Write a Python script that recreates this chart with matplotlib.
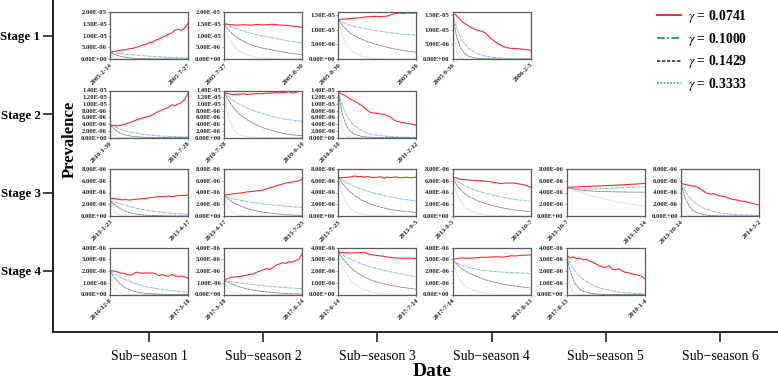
import numpy as np
import pandas as pd
import matplotlib
matplotlib.use('Agg')
import matplotlib.pyplot as plt
from matplotlib.lines import Line2D
from matplotlib.ticker import FuncFormatter

plt.rcParams['font.family'] = ['Liberation Serif', 'DejaVu Serif']
plt.rcParams['mathtext.fontset'] = 'stix'

# ---------------- data ----------------
STAGES = ['Stage 1', 'Stage 2', 'Stage 3', 'Stage 4']
SUBSEASONS = ['Sub\u2212season 1', 'Sub\u2212season 2', 'Sub\u2212season 3',
              'Sub\u2212season 4', 'Sub\u2212season 5', 'Sub\u2212season 6']
GAMMAS = ['0.0741', '0.1000', '0.1429', '0.3333']
UNIT = 1e-6
# sample positions (fraction of panel period) for the decay curves
T_FRAC = [0, 0.02, 0.05, 0.1, 0.15, 0.2, 0.3, 0.4, 0.5, 0.65, 0.8, 1.0]

DATES_1 = [['2005-2-14', '2005-7-27'], ['2005-7-27', '2005-8-30'],
           ['2005-8-30', '2005-9-30'], ['2005-9-30', '2006-2-5']]
DATES_2 = [['2010-1-30', '2010-7-28'], ['2010-7-28', '2010-9-10'],
           ['2010-9-10', '2011-2-12']]
DATES_3 = [['2013-1-23', '2013-4-17'], ['2013-4-17', '2013-7-25'],
           ['2013-7-25', '2013-9-5'], ['2013-9-5', '2013-10-7'],
           ['2013-10-7', '2013-10-14'], ['2013-10-14', '2014-3-2']]
DATES_4 = [['2016-12-8', '2017-3-18'], ['2017-3-18', '2017-6-14'],
           ['2017-6-14', '2017-7-14'], ['2017-7-14', '2017-8-13'],
           ['2017-8-13', '2018-1-4']]

YTICKS_1 = [[0, 5, 10, 15, 20], [0, 5, 10, 15, 20], [0, 5, 10, 15], [0, 5, 10, 15]]
YMAX_1 = [20, 20, 16, 16]
YTICKS_2 = [[0, 2, 4, 6, 8, 10, 12, 14]] * 3
YMAX_2 = [14, 14, 14]
YTICKS_3 = [[0, 2, 4, 6, 8]] * 6
YMAX_3 = [8] * 6
YTICKS_4 = [[0, 1, 2, 3, 4]] * 5
YMAX_4 = [4] * 5

# red: observed prevalence (x 1e-6)
RED_1 = [
    [3.0, 3.1, 3.4, 3.6, 3.9, 4.0, 4.4, 4.5, 5.0, 5.3, 5.9, 6.2, 6.9, 7.2, 8.0, 8.4, 9.3, 9.7, 10.6, 11.1, 12.2, 12.6, 12.2, 13.2, 15.3],
    [15.0, 14.8, 14.6, 14.5, 14.4, 14.5, 14.6, 14.5, 14.4, 14.5, 14.7, 14.6, 14.5, 14.6, 14.7, 14.8, 14.6, 14.5, 14.4, 14.3, 14.2, 14.0, 13.9, 13.7, 13.4],
    [13.4, 13.5, 13.6, 13.7, 13.8, 13.9, 14.0, 14.1, 14.3, 14.4, 14.4, 14.5, 14.5, 14.4, 14.5, 14.6, 15.0, 15.4, 15.6, 15.6, 15.5, 15.7, 15.6, 15.6, 15.7],
    [15.6, 15.0, 13.8, 12.6, 11.9, 11.2, 10.6, 10.0, 9.7, 9.4, 9.0, 7.8, 6.8, 6.0, 5.2, 4.6, 4.1, 3.8, 3.6, 3.6, 3.5, 3.4, 3.3, 3.2, 2.9],
]
RED_2 = [
    [3.8, 3.6, 3.5, 3.6, 3.8, 4.1, 4.4, 4.8, 5.2, 5.5, 5.8, 6.1, 6.3, 6.7, 7.3, 7.8, 8.2, 8.6, 9.0, 9.7, 9.5, 10.0, 10.4, 11.3, 13.2],
    [13.3, 13.1, 12.9, 12.8, 12.9, 12.9, 13.0, 12.8, 12.9, 13.0, 13.1, 13.0, 13.1, 13.2, 13.2, 13.3, 13.4, 13.3, 13.4, 13.5, 13.6, 13.2, 13.4, 13.7, 13.8],
    [13.5, 13.0, 12.5, 11.9, 11.3, 10.8, 10.2, 9.6, 8.9, 8.0, 7.4, 7.3, 7.2, 7.0, 6.9, 6.6, 6.1, 5.3, 4.8, 4.6, 4.4, 4.2, 4.1, 3.9, 3.6],
]
RED_3 = [
    [2.9, 3.0, 2.9, 2.8, 2.75, 2.8, 2.7, 2.8, 2.85, 2.9, 2.95, 3.0, 3.1, 3.15, 3.2, 3.3, 3.3, 3.35, 3.4, 3.3, 3.4, 3.45, 3.5, 3.5, 3.6],
    [3.5, 3.6, 3.7, 3.8, 3.85, 3.9, 4.0, 4.1, 4.15, 4.2, 4.3, 4.3, 4.45, 4.6, 4.8, 4.95, 5.1, 5.3, 5.45, 5.6, 5.7, 5.8, 5.9, 5.95, 6.3],
    [6.6, 6.5, 6.55, 6.6, 6.7, 6.8, 6.7, 6.75, 6.6, 6.7, 6.6, 6.5, 6.6, 6.7, 6.4, 6.6, 6.55, 6.6, 6.65, 6.5, 6.55, 6.6, 6.5, 6.55, 6.6],
    [6.6, 6.5, 6.3, 6.2, 6.2, 6.1, 6.1, 6.0, 6.0, 6.0, 5.9, 5.9, 5.8, 5.7, 5.6, 5.5, 5.6, 5.6, 5.6, 5.6, 5.5, 5.4, 5.3, 5.1, 4.9],
    [4.85, 4.9, 4.92, 4.95, 4.98, 5.0, 5.02, 5.05, 5.08, 5.1, 5.12, 5.15, 5.18, 5.2, 5.22, 5.25, 5.28, 5.3, 5.33, 5.36, 5.4, 5.43, 5.46, 5.5, 5.55],
    [5.6, 5.4, 5.3, 5.1, 5.15, 4.9, 4.6, 4.2, 3.9, 3.7, 3.85, 3.6, 3.4, 3.35, 3.2, 3.0, 2.8, 2.75, 2.6, 2.5, 2.45, 2.3, 2.15, 2.0, 1.85],
]
RED_4 = [
    [2.05, 2.0, 1.95, 1.85, 1.8, 1.75, 1.65, 1.7, 1.9, 1.85, 1.8, 1.85, 1.8, 1.85, 1.75, 1.6, 1.7, 1.6, 1.55, 1.7, 1.6, 1.55, 1.55, 1.5, 1.4],
    [1.25, 1.35, 1.45, 1.5, 1.5, 1.55, 1.6, 1.65, 1.7, 1.75, 1.9, 2.0, 2.1, 2.2, 2.15, 2.3, 2.5, 2.6, 2.7, 2.65, 2.8, 2.75, 2.9, 3.0, 3.5],
    [3.6, 3.58, 3.55, 3.55, 3.52, 3.55, 3.55, 3.58, 3.6, 3.45, 3.4, 3.35, 3.32, 3.28, 3.25, 3.2, 3.15, 3.12, 3.1, 3.1, 3.1, 3.08, 3.1, 3.05, 3.05],
    [2.95, 3.05, 3.1, 3.12, 3.1, 3.08, 3.1, 3.12, 3.15, 3.18, 3.15, 3.18, 3.2, 3.2, 3.22, 3.18, 3.2, 3.25, 3.3, 3.28, 3.3, 3.32, 3.35, 3.35, 3.38],
    [3.35, 3.1, 3.2, 3.05, 3.1, 2.95, 3.0, 2.85, 2.75, 2.6, 2.45, 2.35, 2.3, 2.45, 2.15, 2.1, 2.2, 2.0, 1.9, 1.85, 1.75, 1.7, 1.65, 1.55, 1.35],
]

# blue: gamma = 0.1000
BLUE_1 = [
    [2.8, 2.75, 2.65, 2.45, 2.25, 2.05, 1.75, 1.45, 1.2, 0.9, 0.65, 0.4],
    [15.0, 14.7, 14.2, 13.5, 12.9, 12.3, 11.3, 10.5, 9.8, 8.8, 7.8, 6.8],
    [13.4, 13.0, 12.5, 11.9, 11.5, 11.1, 10.5, 10.0, 9.6, 9.0, 8.5, 8.1],
    [15.6, 13.5, 10.8, 7.5, 5.3, 3.8, 2.0, 1.1, 0.6, 0.25, 0.1, 0.05],
]
BLUE_2 = [
    [3.8, 3.6, 3.3, 2.8, 2.4, 2.0, 1.45, 1.05, 0.75, 0.45, 0.28, 0.15],
    [13.3, 12.9, 12.3, 11.3, 10.5, 9.8, 8.7, 7.8, 7.1, 6.1, 5.4, 4.8],
    [13.5, 11.8, 9.6, 6.8, 4.9, 3.6, 2.0, 1.1, 0.65, 0.3, 0.15, 0.08],
]
BLUE_3 = [
    [2.6, 2.5, 2.4, 2.2, 2.0, 1.8, 1.45, 1.15, 0.9, 0.65, 0.45, 0.28],
    [3.4, 3.3, 3.2, 3.0, 2.85, 2.7, 2.45, 2.25, 2.05, 1.85, 1.65, 1.45],
    [6.6, 6.4, 6.1, 5.7, 5.35, 5.05, 4.55, 4.1, 3.75, 3.3, 2.9, 2.55],
    [6.5, 6.3, 6.0, 5.6, 5.2, 4.9, 4.35, 3.95, 3.6, 3.15, 2.8, 2.5],
    [4.85, 4.8, 4.75, 4.7, 4.65, 4.62, 4.6, 4.62, 4.66, 4.75, 4.85, 5.0],
    [5.5, 5.0, 4.3, 3.3, 2.6, 2.0, 1.3, 0.85, 0.55, 0.3, 0.17, 0.08],
]
BLUE_4 = [
    [2.0, 1.92, 1.8, 1.6, 1.42, 1.25, 1.0, 0.78, 0.62, 0.45, 0.32, 0.2],
    [1.2, 1.17, 1.14, 1.08, 1.03, 0.98, 0.9, 0.82, 0.75, 0.66, 0.58, 0.5],
    [3.6, 3.5, 3.38, 3.2, 3.03, 2.88, 2.6, 2.38, 2.2, 1.95, 1.75, 1.5],
    [2.95, 2.85, 2.72, 2.55, 2.42, 2.32, 2.17, 2.05, 1.97, 1.9, 1.85, 1.8],
    [3.3, 3.0, 2.6, 2.05, 1.65, 1.35, 0.9, 0.6, 0.42, 0.22, 0.12, 0.05],
]

# gray: gamma = 0.1429
GRAY_1 = [
    [2.8, 2.5, 2.05, 1.45, 1.0, 0.7, 0.35, 0.15, 0.07, 0.02, 0.0, 0.0],
    [15.0, 14.0, 12.6, 10.8, 9.5, 8.4, 6.6, 5.4, 4.6, 3.6, 2.7, 1.8],
    [13.4, 12.6, 11.5, 10.0, 8.9, 8.0, 6.7, 5.7, 4.9, 3.8, 3.0, 2.3],
    [15.6, 12.0, 7.8, 3.9, 2.0, 1.0, 0.3, 0.1, 0.03, 0, 0, 0],
]
GRAY_2 = [
    [3.8, 3.3, 2.6, 1.7, 1.1, 0.7, 0.3, 0.12, 0.05, 0.01, 0, 0],
    [13.3, 12.5, 11.3, 9.5, 8.1, 6.9, 5.2, 3.9, 2.9, 1.8, 1.0, 0.5],
    [13.5, 10.5, 7.0, 3.6, 1.9, 1.0, 0.3, 0.08, 0.02, 0, 0, 0],
]
GRAY_3 = [
    [2.6, 2.35, 2.0, 1.5, 1.1, 0.8, 0.4, 0.2, 0.1, 0.03, 0, 0],
    [3.4, 3.2, 2.9, 2.45, 2.05, 1.75, 1.25, 0.9, 0.65, 0.4, 0.2, 0.1],
    [6.6, 6.2, 5.6, 4.8, 4.1, 3.55, 2.7, 2.1, 1.65, 1.15, 0.85, 0.6],
    [6.5, 6.0, 5.3, 4.5, 3.9, 3.4, 2.7, 2.2, 1.8, 1.35, 1.0, 0.75],
    [4.85, 4.78, 4.68, 4.55, 4.45, 4.38, 4.27, 4.2, 4.15, 4.1, 4.07, 4.05],
    [5.5, 4.5, 3.2, 1.8, 1.0, 0.6, 0.2, 0.06, 0.02, 0, 0, 0],
]
GRAY_4 = [
    [2.0, 1.8, 1.5, 1.1, 0.8, 0.55, 0.28, 0.14, 0.07, 0.02, 0, 0],
    [1.2, 1.13, 1.03, 0.88, 0.75, 0.64, 0.47, 0.34, 0.25, 0.15, 0.08, 0.04],
    [3.6, 3.4, 3.1, 2.7, 2.35, 2.05, 1.6, 1.28, 1.05, 0.8, 0.62, 0.45],
    [2.95, 2.8, 2.6, 2.3, 2.05, 1.85, 1.55, 1.3, 1.1, 0.88, 0.72, 0.55],
    [3.3, 2.6, 1.85, 1.0, 0.55, 0.3, 0.1, 0.03, 0, 0, 0, 0],
]

# green: gamma = 0.3333
GREEN_1 = [
    [2.8, 1.6, 0.6, 0.1, 0.02, 0, 0, 0, 0, 0, 0, 0],
    [15.0, 12.5, 9.8, 6.5, 4.6, 3.2, 1.6, 0.8, 0.4, 0.1, 0, 0],
    [13.4, 11.0, 8.2, 5.2, 3.4, 2.2, 0.9, 0.35, 0.1, 0, 0, 0],
    [15.6, 8.0, 2.6, 0.4, 0.05, 0, 0, 0, 0, 0, 0, 0],
]
GREEN_2 = [
    [3.8, 2.0, 0.7, 0.1, 0.02, 0, 0, 0, 0, 0, 0, 0],
    [13.3, 10.0, 6.5, 3.2, 1.6, 0.8, 0.2, 0.05, 0, 0, 0, 0],
    [13.5, 7.0, 2.4, 0.4, 0.05, 0, 0, 0, 0, 0, 0, 0],
]
GREEN_3 = [
    [2.6, 1.7, 0.9, 0.3, 0.1, 0.03, 0, 0, 0, 0, 0, 0],
    [3.4, 2.4, 1.4, 0.6, 0.25, 0.1, 0.02, 0, 0, 0, 0, 0],
    [6.6, 5.3, 3.8, 2.2, 1.3, 0.8, 0.3, 0.1, 0.04, 0, 0, 0],
    [6.5, 5.3, 4.0, 2.6, 1.7, 1.1, 0.5, 0.2, 0.08, 0.02, 0, 0],
    [4.85, 4.75, 4.6, 4.35, 4.12, 3.9, 3.5, 3.15, 2.85, 2.4, 2.05, 1.65],
    [5.5, 2.8, 1.0, 0.15, 0.02, 0, 0, 0, 0, 0, 0, 0],
]
GREEN_4 = [
    [2.0, 1.3, 0.65, 0.2, 0.06, 0.02, 0, 0, 0, 0, 0, 0],
    [1.2, 0.85, 0.5, 0.2, 0.08, 0.03, 0, 0, 0, 0, 0, 0],
    [3.6, 3.0, 2.4, 1.75, 1.3, 0.95, 0.5, 0.25, 0.13, 0.05, 0.02, 0],
    [2.95, 2.4, 1.85, 1.2, 0.8, 0.55, 0.25, 0.12, 0.05, 0.01, 0, 0],
    [3.3, 1.6, 0.55, 0.08, 0.01, 0, 0, 0, 0, 0, 0, 0],
]

ROWS = [
    (DATES_1, YTICKS_1, YMAX_1, RED_1, BLUE_1, GRAY_1, GREEN_1),
    (DATES_2, YTICKS_2, YMAX_2, RED_2, BLUE_2, GRAY_2, GREEN_2),
    (DATES_3, YTICKS_3, YMAX_3, RED_3, BLUE_3, GRAY_3, GREEN_3),
    (DATES_4, YTICKS_4, YMAX_4, RED_4, BLUE_4, GRAY_4, GREEN_4),
]

# ---------------- styles ----------------
C_RED = '#ff2b2b'
C_BLUE_LEG, C_BLUE = '#2f8fd8', '#7fb0e0'
C_GRAY_LEG, C_GRAY = '#333333', '#707070'
C_GREEN_LEG, C_GREEN = '#22b04a', '#cfd6b8'
LS_BLUE = (0, (3, 0.8, 1, 0.8))
LS_GRAY = (0, (4, 0.6))
LS_GREEN = (0, (1.5, 0.6))

W, H = 778, 380
fig = plt.figure(figsize=(W / 100, H / 100), dpi=100)

# outer frame axes
AX_L, AX_B = 53, 332           # pixel positions of left / bottom spine
outer = fig.add_axes([AX_L / W, (H - AX_B) / H, 1 - AX_L / W, AX_B / H])
outer.patch.set_visible(False)
for s in ('top', 'right'):
    outer.spines[s].set_visible(False)
for s in ('left', 'bottom'):
    outer.spines[s].set_linewidth(1.4)
    outer.spines[s].set_color('#222222')

COL0, COLSTEP, COLW = 110, 114.2, 78
ROW0, ROWSTEP, ROWH = 12, 78.5, 47
col_c = COL0 + COLW / 2
row_c = ROW0 + ROWH / 2
outer.set_xlim((AX_L - col_c) / COLSTEP, (W - col_c) / COLSTEP)
outer.set_ylim((AX_B - row_c) / ROWSTEP, (0 - row_c) / ROWSTEP)
outer.set_xticks(range(len(SUBSEASONS)))
outer.set_xticklabels(SUBSEASONS, fontsize=10)
outer.set_yticks(range(len(STAGES)))
outer.set_yticklabels(STAGES, fontsize=9.3, fontweight='bold')
outer.tick_params(axis='both', direction='out', length=7, width=1.2,
                  color='#222222')
outer.tick_params(axis='x', pad=6)
outer.tick_params(axis='y', pad=2)

fig.text(69.5 / W, 1 - 139 / H, 'Prevalence', rotation=90, ha='center',
         va='center', fontsize=12, fontweight='bold')
fig.text(432 / W, 1 - 372 / H, 'Date', ha='center', va='center',
         fontsize=14, fontweight='bold')

fmt = FuncFormatter(lambda v, p: '%.2E' % v)

for i, (dates, yticks, ymax, red, blue, gray, green) in enumerate(ROWS):
    for j in range(len(dates)):
        left = COL0 + COLSTEP * j
        top = ROW0 + ROWSTEP * i
        ax = fig.add_axes([left / W, 1 - (top + ROWH) / H, COLW / W, ROWH / H])
        d0, d1 = pd.Timestamp(dates[j][0]), pd.Timestamp(dates[j][1])
        ndays = (d1 - d0).days
        t = np.asarray(T_FRAC) * ndays
        xr = np.linspace(0, ndays, len(red[j]))
        ax.plot(t, np.asarray(green[j]) * UNIT, color=C_GREEN, lw=0.6, ls=LS_GREEN)
        ax.plot(t, np.asarray(gray[j]) * UNIT, color=C_GRAY, lw=0.55, ls=LS_GRAY)
        ax.plot(t, np.asarray(blue[j]) * UNIT, color=C_BLUE, lw=0.7, ls=LS_BLUE)
        ax.plot(xr, np.asarray(red[j]) * UNIT, color=C_RED, lw=0.8)
        ax.set_xlim(0, ndays)
        ax.set_ylim(0, ymax[j] * UNIT)
        ax.set_yticks(np.asarray(yticks[j]) * UNIT)
        ax.yaxis.set_major_formatter(fmt)
        ax.set_xticks([0, ndays])
        ax.set_xticklabels(dates[j], rotation=45, ha='right', va='top',
                           rotation_mode='anchor')
        ax.tick_params(axis='both', labelsize=4.8, length=1.2, width=0.4,
                       pad=1, color='#555555')
        for lab in ax.get_xticklabels() + ax.get_yticklabels():
            lab.set_fontweight('bold')
            lab.set_color('#222222')
        for s in ax.spines.values():
            s.set_linewidth(0.9)
            s.set_color('#5a5a5a')

handles = [
    Line2D([], [], color=C_RED, lw=1.4),
    Line2D([], [], color=C_BLUE_LEG, lw=1.4, ls=(0, (4, 1.2, 1, 1.2))),
    Line2D([], [], color=C_GRAY_LEG, lw=1.2, ls=(0, (2, 1))),
    Line2D([], [], color=C_GREEN_LEG, lw=1.2, ls=(0, (1, 1))),
]
labels = [r'$\gamma$ = ' + g for g in GAMMAS]
fig.legend(handles, labels, loc='upper left', bbox_to_anchor=(657 / W, 1 - 8 / H),
           frameon=False, borderpad=0, borderaxespad=0, handlelength=1.75,
           handletextpad=0.55, labelspacing=0.42,
           prop={'family': 'Liberation Serif', 'weight': 'bold', 'size': 9.8})

fig.savefig('out.png', dpi=100)
